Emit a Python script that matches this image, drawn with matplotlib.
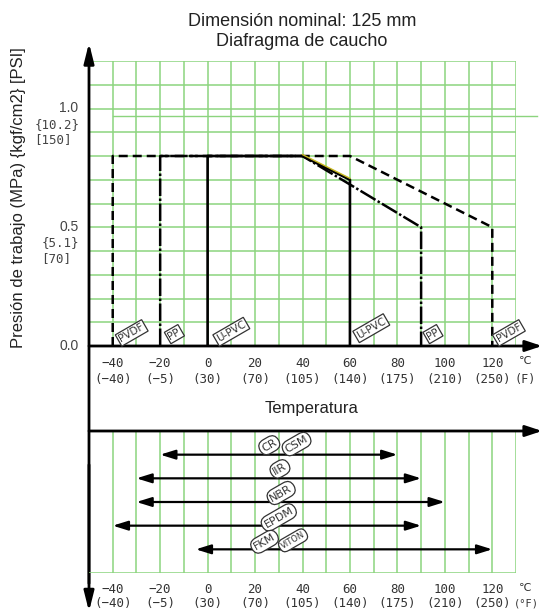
import numpy as np
import matplotlib
matplotlib.use('Agg')
import matplotlib.pyplot as plt
from matplotlib.patches import ArrowStyle

# ---------------- data
t_ticks = [-40, -20, 0, 20, 40, 60, 80, 100, 120]
c_labels = ['−40', '−20', '0', '20', '40', '60', '80', '100', '120']
f_labels = ['(−40)', '(−5)', '(30)', '(70)', '(105)', '(140)', '(175)', '(210)', '(250)']

# pressure limits (MPa) vs temperature (C)
pvdf_t = [-40, -40, 60, 120, 120]
pvdf_p = [0.0, 0.8, 0.8, 0.5, 0.0]
pp_t = [-20, -20, 40, 90, 90]
pp_p = [0.0, 0.8, 0.8, 0.5, 0.0]
upvc_t = [0, 0, 40, 60, 60]
upvc_p = [0.0, 0.8, 0.8, 0.7, 0.0]

p_ticks = [1.0, 0.5, 0.0]
p_labels = ['1.0', '0.5', '0.0']
kgf_labels = ['{10.2}', '{5.1}', '']
psi_labels = ['[150]', '[70]', '']

# material labels on the pressure chart
mat_names = ['PVDF', 'PP', 'U-PVC', 'U-PVC', 'PP', 'PVDF']
mat_t = [-32, -14, 10, 69, 95, 127]
mat_p = [0.055, 0.05, 0.06, 0.075, 0.05, 0.055]

# rubber temperature ranges
rub_row = [1, 2, 3, 4, 5]
rub_lo = [-20, -30, -30, -40, -5]
rub_hi = [80, 90, 100, 90, 120]
rub_names = ['CR', 'CSM', 'IIR', 'NBR', 'EPDM', 'FKM', 'VITON']
rub_t = [26, 37.5, 30.5, 31, 30, 24, 36]
rub_y = [0.6, 0.55, 1.6, 2.62, 3.65, 4.68, 4.62]

green = '#8cd47e'
dark = '#333333'

plt.rcParams['font.family'] = ['Liberation Sans', 'DejaVu Sans']
fig = plt.figure(figsize=(5.42, 6.12), dpi=100)
W, H = 542., 612.

#----------- top chart: pressure
ax = fig.add_axes([89/W, (H-346)/H, 427/W, 285/H])
ax.set_xlim(-50, 130)
ax.set_ylim(0, 1.2)
ax.axis('off')

ax.vlines(np.arange(-40, 131, 10), 0, 1.2, color=green, lw=1.1, zorder=1)
ax.hlines(np.arange(0.1, 1.21, 0.1), -50, 130, color=green, lw=1.1, zorder=1)
ax.plot([-40, 139], [0.968, 0.968], color=green, lw=1.0, clip_on=False, zorder=1)

ax.plot(pvdf_t, pvdf_p, color='k', lw=1.8, linestyle=(0, (3.6, 2.0)), zorder=3)
ax.plot(pp_t, pp_p, color='k', lw=1.8, linestyle=(0, (7, 1.0, 1.0, 1.0)), zorder=3)
ax.plot(upvc_t, upvc_p, color='k', lw=1.9, zorder=4)
ax.plot(upvc_t[2:4], [p + 0.006 for p in upvc_p[2:4]], color='#c8b820', lw=1.0, zorder=5)

for name, t, p in zip(mat_names, mat_t, mat_p):
    ax.text(t, p, name, rotation=30, ha='center', va='center', fontsize=7.5,
            family='DejaVu Sans', color=dark, zorder=6,
            bbox=dict(boxstyle='square,pad=0.15', fc='white', ec=dark, lw=0.9))

# axes arrows
big = ArrowStyle('-|>', head_length=1.2, head_width=0.3)
ax.annotate('', xy=(-50, 1.276), xytext=(-50, -1.0), annotation_clip=False,
            arrowprops=dict(arrowstyle=big, color='k', lw=2, shrinkA=0, shrinkB=0, mutation_scale=10))
ax.annotate('', xy=(-50, -1.118), xytext=(-50, -0.5), annotation_clip=False,
            arrowprops=dict(arrowstyle=big, color='k', lw=2, shrinkA=0, shrinkB=0, mutation_scale=10))
xarr = ArrowStyle('-|>', head_length=1.0, head_width=0.33)
ax.annotate('', xy=(141, 0), xytext=(-50, 0), annotation_clip=False,
            arrowprops=dict(arrowstyle=xarr, color='k', lw=2, shrinkA=0, shrinkB=0, mutation_scale=10))

for t, c, f in zip(t_ticks, c_labels, f_labels):
    ax.text(t, -0.072, c, ha='center', va='center', fontsize=9, family='DejaVu Sans Mono', color=dark)
    ax.text(t, -0.143, f, ha='center', va='center', fontsize=9, family='DejaVu Sans Mono', color=dark)
ax.text(134, -0.065, '℃', ha='center', va='center', fontsize=8, family=['DejaVu Sans'], color=dark)
ax.text(134, -0.143, '(F)', ha='center', va='center', fontsize=8.5, family='DejaVu Sans Mono', color=dark)

for p, a, b, c in zip(p_ticks, p_labels, kgf_labels, psi_labels):
    ax.text(-54.5, p, a, ha='right', va='center', fontsize=10, color='#444444')
    ax.text(-54.0, p - 0.066, b, ha='right', va='center', fontsize=9, family='DejaVu Sans Mono', color='#444444')
    ax.text(-57.5, p - 0.13, c, ha='right', va='center', fontsize=9, family='DejaVu Sans Mono', color='#444444')

fig.text(302/W, 1 - 21/H, 'Dimensión nominal: 125 mm', ha='center', va='center', fontsize=13, color='#222222')
fig.text(302/W, 1 - 42/H, 'Diafragma de caucho', ha='center', va='center', fontsize=13, color='#222222')
fig.text(19/W, 1 - 198/H, 'Presión de trabajo (MPa) {kgf/cm2} [PSI]', rotation=90,
         ha='center', va='center', fontsize=12, color='#222222')
fig.text(312/W, 1 - 409/H, 'Temperatura', ha='center', va='center', fontsize=12, color='#222222')

#----------- bottom chart: rubber temperature ranges
bx = fig.add_axes([89/W, (H-573)/H, 427/W, 142/H])
bx.set_xlim(-50, 130)
bx.set_ylim(6, 0)
bx.axis('off')

bx.vlines(np.arange(-40, 131, 10), 0, 6, color=green, lw=1.1, zorder=1)
bx.hlines([6], -50, 130, color=green, lw=1.1, zorder=1)
bx.annotate('', xy=(141, 0), xytext=(-50, 0), annotation_clip=False,
            arrowprops=dict(arrowstyle=xarr, color='k', lw=2, shrinkA=0, shrinkB=0, mutation_scale=10))

small = ArrowStyle('<|-|>', head_length=0.9, head_width=0.28)
for r, lo, hi in zip(rub_row, rub_lo, rub_hi):
    bx.annotate('', xy=(hi, r), xytext=(lo, r),
                arrowprops=dict(arrowstyle=small, color='k', lw=1.6, shrinkA=0, shrinkB=0, mutation_scale=10))

for name, t, y in zip(rub_names, rub_t, rub_y):
    fs = 6 if name == 'VITON' else 8
    bx.text(t, y, name, rotation=30, ha='center', va='center', fontsize=fs,
            family='DejaVu Sans', color=dark, zorder=6,
            bbox=dict(boxstyle='round,pad=0.25,rounding_size=0.7', fc='white', ec=dark, lw=0.9))

for t, c, f in zip(t_ticks, c_labels, f_labels):
    bx.text(t, 6.7, c, ha='center', va='center', fontsize=9, family='DejaVu Sans Mono', color=dark)
    bx.text(t, 7.3, f, ha='center', va='center', fontsize=9, family='DejaVu Sans Mono', color=dark)
bx.text(134, 6.65, '℃', ha='center', va='center', fontsize=8, family=['DejaVu Sans'], color=dark)
bx.text(134.5, 7.3, '(°F)', ha='center', va='center', fontsize=7.5, family='DejaVu Sans Mono', color=dark)

fig.savefig('out.png', dpi=100, facecolor='white')
